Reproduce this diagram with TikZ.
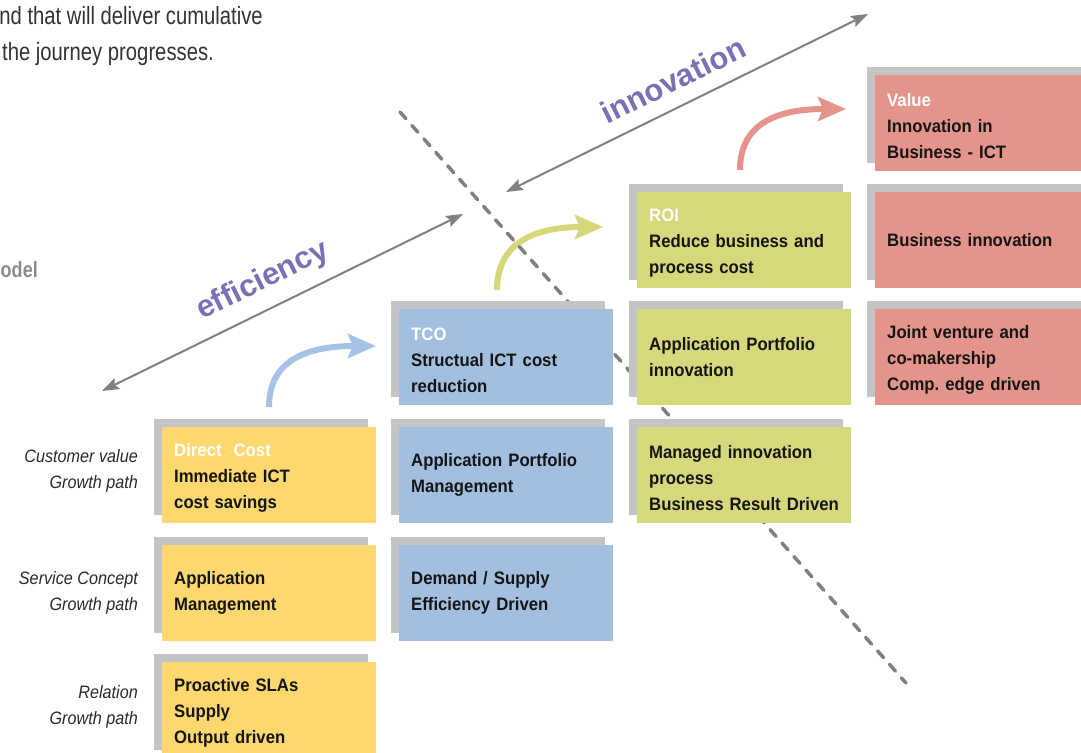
\documentclass[tikz,border=0pt]{standalone}
\usepackage{fontspec}
\setmainfont{Liberation Sans}
\newfontfamily\boxfont[FakeStretch=0.93]{Liberation Sans}
\newfontfamily\labfont[FakeStretch=0.9]{Liberation Sans}
\newfontfamily\topfont[FakeStretch=0.81]{Liberation Sans}
\newfontfamily\odelfont[FakeStretch=0.82]{Liberation Sans}
\usetikzlibrary{arrows.meta,calc}
\frenchspacing
\definecolor{tileY}{HTML}{FDD86F}
\definecolor{tileB}{HTML}{A3BFE0}
\definecolor{tileG}{HTML}{D7D87B}
\definecolor{tileR}{HTML}{E5948C}
\definecolor{shadowc}{HTML}{C4C4C6}
\definecolor{purp}{HTML}{7A70B3}
\definecolor{axisgray}{HTML}{808080}
\definecolor{dashgray}{HTML}{7F7F7F}
\definecolor{textc}{HTML}{151515}
\definecolor{labc}{HTML}{2A2A2A}
\definecolor{topc}{HTML}{333333}
\definecolor{odelc}{HTML}{8C8C8C}
\definecolor{arrB}{HTML}{A6C3E6}
\definecolor{arrG}{HTML}{D6D77A}
\definecolor{arrR}{HTML}{E5948C}
\newcommand\tile[5]{%
  \fill[shadowc] ({#2-8},{#3-8}) rectangle ({#2+206},{#3+88});
  \node[tilebox, fill=#4] (#1) at (#2,#3) {#5};}
\newcommand\ttl[1]{\rule{0pt}{19pt}{\color{white}#1}}
\newcommand\fl{\rule{0pt}{19pt}}
\tikzset{
  tilebox/.style={anchor=north west, minimum width=214pt, minimum height=96pt,
    text width=190pt, inner xsep=12pt, inner ysep=0pt, align=left,
    font=\boxfont\bfseries\fontsize{18}{26}\selectfont, text=textc},
  rowlab/.style={anchor=east, align=right, inner sep=0pt,
    font=\labfont\itshape\fontsize{18}{26}\selectfont, text=labc},
  axisarrow/.style={draw=axisgray, line width=2pt,
    {Stealth[length=17pt,width=12pt,inset=3pt]}-{Stealth[length=17pt,width=12pt,inset=3pt]}},
  axislab/.style={font=\bfseries\fontsize{31}{31}\selectfont, text=purp, rotate=26.2, inner sep=0pt},
  curvearrow/.style={line width=6pt, -{Stealth[length=28pt,width=24pt,inset=5pt]}},
  splitline/.style={draw=dashgray, line width=3.5pt, line cap=round, dash pattern=on 9pt off 9pt}
}
\begin{document}
\begin{tikzpicture}[x=1pt,y=-1pt]
\useasboundingbox (0,0) rectangle (1081,752);
\clip (0,0) rectangle (1081,752);

% top text
\node[anchor=base east, inner sep=0pt, font=\topfont\fontsize{25}{35}\selectfont, text=topc] (t1) at (263,25) {nd that will deliver cumulative};
\node[anchor=base west, inner sep=0pt, font=\topfont\fontsize{25}{35}\selectfont, text=topc] (t2) at (2,60) {the journey progresses.};
\node[anchor=base east, inner sep=0pt, font=\odelfont\bfseries\fontsize{22}{22}\selectfont, text=odelc] (odel) at (38,277) {odel};

% axes
\coordinate (e1) at (102,391);
\coordinate (e2) at (463,214);
\coordinate (i1) at (506,192);
\coordinate (i2) at (868,14);
\draw[axisarrow] (e1) -- (e2);
\draw[axisarrow] (i1) -- (i2);
\node[axislab] (eff) at (263,281) {efficiency};
\node[axislab] (inn) at (673,80) {innovation};

% curved arrows
\coordinate (b0) at (269,407);
\coordinate (b1) at (376,346);
\coordinate (g0) at (497,290);
\coordinate (g1) at (603,227);
\coordinate (r0) at (740,170);
\coordinate (r1) at (846,109);
\draw[curvearrow, draw=arrB] (b0) .. controls (269,368) and (295,346) .. (b1);
\draw[curvearrow, draw=arrG] (g0) .. controls (497,251) and (523,227) .. (g1);
\draw[curvearrow, draw=arrR] (r0) .. controls (740,131) and (766,109) .. (r1);

% dashed divider
\coordinate (d1) at (400,112);
\coordinate (d2) at (906,683);
\draw[splitline] (d1) -- (d2);

% row labels
\node[rowlab] (l1) at (138,471) {Customer value\\Growth path};
\node[rowlab] (l2) at (138,593) {Service Concept\\Growth path};
\node[rowlab] (l3) at (138,707) {Relation\\Growth path};

% yellow column
\tile{y1}{162}{427}{tileY}{\ttl{Direct\ \ Cost}\\Immediate ICT\\cost savings}
\tile{y2}{162}{545}{tileY}{Application\\Management}
\tile{y3}{162}{662}{tileY}{\fl Proactive SLAs\\Supply\\Output driven}
% blue column
\tile{b1n}{399}{309}{tileB}{\ttl{TCO}\\Structual ICT cost\\reduction}
\tile{b2n}{399}{427}{tileB}{Application Portfolio\\Management}
\tile{b3n}{399}{545}{tileB}{Demand / Supply\\Efficiency Driven}
% green column
\tile{g1n}{637}{192}{tileG}{\ttl{ROI}\\Reduce business and\\process cost}
\tile{g2n}{637}{309}{tileG}{Application Portfolio\\innovation}
\tile{g3n}{637}{427}{tileG}{\fl Managed innovation\\process\\Business Result Driven}
% red column
\tile{r1n}{875}{75}{tileR}{\ttl{Value}\\Innovation in\\Business - ICT}
\tile{r2n}{875}{192}{tileR}{Business innovation}
\tile{r3n}{875}{309}{tileR}{\fl Joint venture and\\co-makership\\Comp. edge driven}
\end{tikzpicture}
\end{document}
